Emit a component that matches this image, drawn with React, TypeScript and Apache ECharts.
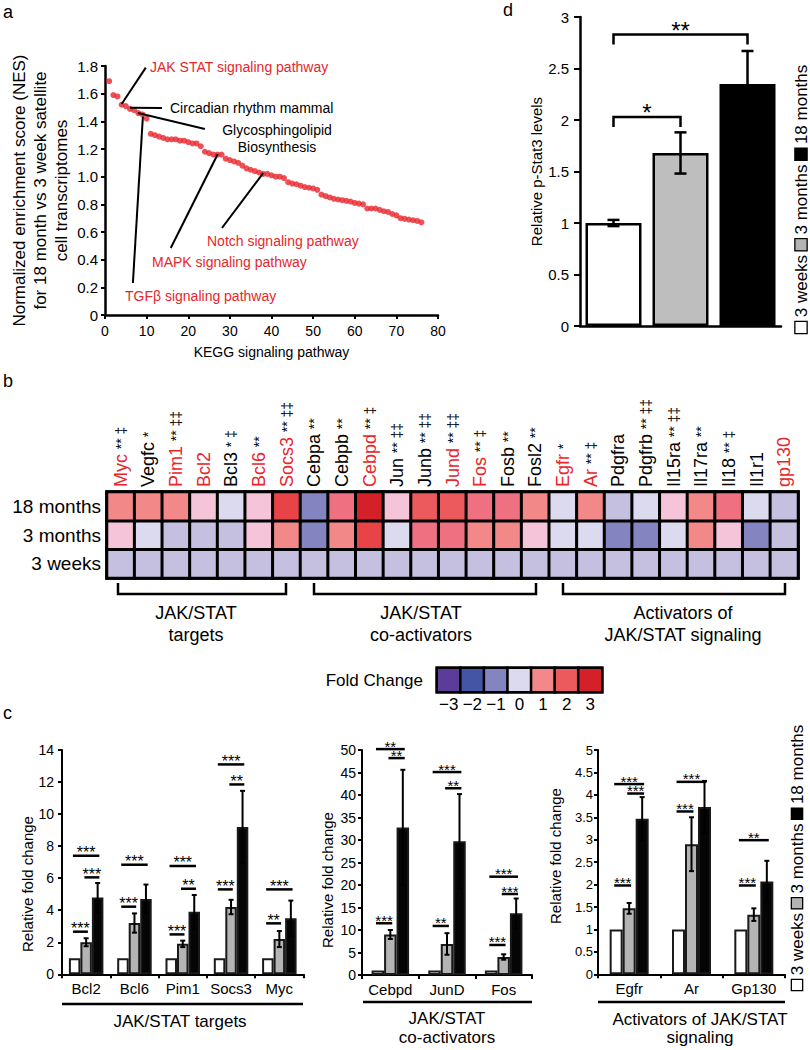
import React, { useEffect, useRef } from 'react';
import * as echarts from 'echarts';

const F = "'Liberation Sans', Arial, Helvetica, sans-serif";
const FN = "'Liberation Sans Narrow', 'Arial Narrow', 'Liberation Sans', Arial, sans-serif";
const RED = '#e8262b';

// ---------- Panel a: NES per KEGG pathway (ranked) ----------
const nesValues = [
  1.69, 1.59, 1.58, 1.52, 1.51, 1.49, 1.48, 1.46, 1.45, 1.42,
  1.31, 1.30, 1.29, 1.28, 1.27, 1.27, 1.27, 1.26, 1.26, 1.25,
  1.24, 1.24, 1.22, 1.18, 1.17, 1.16, 1.16, 1.16, 1.13, 1.12,
  1.11, 1.10, 1.08, 1.06, 1.05, 1.04, 1.03, 1.02, 1.02, 1.01,
  1.00, 1.00, 0.99, 0.96, 0.95, 0.945, 0.935, 0.925, 0.92, 0.915,
  0.905, 0.87, 0.86, 0.85, 0.84, 0.835, 0.83, 0.825, 0.82, 0.81,
  0.805, 0.80, 0.77, 0.77, 0.77, 0.76, 0.75, 0.745, 0.73, 0.72,
  0.70, 0.695, 0.69, 0.685, 0.68, 0.67,
];
const nesTicks = { min: 0, max: 1.8, interval: 0.2 };
const keggTicks = { min: 0, max: 80, interval: 10 };
// leader lines [from point, to label] in data coordinates
const leaderLines = [
  [[4.0, 1.525], [9.8, 1.788]],
  [[6.0, 1.499], [13.7, 1.497]],
  [[7.9, 1.46], [24.0, 1.345]],
  [[9.1, 1.434], [6.7, 0.231]],
  [[27.1, 1.164], [15.8, 0.484]],
  [[38.0, 1.026], [28.1, 0.629]],
];

// ---------- Panel d: p-Stat3 ----------
const ageGroups = ['3 weeks', '3 months', '18 months'];
const pStat3 = [1.0, 1.68, 2.35];
const pStat3Err = [0.03, 0.2, 0.32];
const pStatSig = [
  [0, 1, 2.03, '*'],
  [0, 2, 2.83, '**'],
];

// ---------- Panel b: heatmap ----------
const heatGenes = ['Myc', 'Vegfc', 'Pim1', 'Bcl2', 'Bcl3', 'Bcl6', 'Socs3', 'Cebpa', 'Cebpb', 'Cebpd', 'Jun', 'Junb', 'Jund', 'Fos', 'Fosb', 'Fosl2', 'Egfr', 'Ar', 'Pdgfra', 'Pdgfrb', 'Il15ra', 'Il17ra', 'Il18', 'Il1r1', 'gp130'];
const heatMarks = ['** ‡', '*', '** ‡‡', '', '* ‡', '**', '** ‡‡', '**', '**', '** ‡', '** ‡‡', '** ‡‡', '** ‡‡', '** ‡', '**', '**', '*', '** ‡', '', '** ‡‡', '** ‡‡', '**', '** ‡', '', ''];
const heatValidated = [1, 0, 1, 1, 0, 1, 1, 0, 0, 1, 0, 0, 1, 1, 0, 0, 1, 1, 0, 0, 0, 0, 0, 0, 1];
const heatRows = ['3 weeks', '3 months', '18 months'];
const fc3w = [-0.5, -0.5, -0.5, -0.5, -0.5, -0.5, -0.5, -0.5, -0.5, -0.5, -0.5, -0.5, -0.5, -0.5, -0.5, -0.5, -0.5, -0.5, -0.5, -0.5, -0.5, -0.5, -0.5, -0.5, -0.5];
const fc3m = [0.5, 0, -0.5, -0.5, -0.5, 0.5, 1, -1, 1, 2.5, 0, 1.5, 1.5, 1, 1, 0.5, 0, 0, -1, -1, 0, 1, 0.5, -1, -0.5];
const fc18m = [1, 1, 1, 0.5, 0, 0.5, 2.5, -1, 1.5, 3, 0.5, 2, 2, 1.5, 1.5, 1, 0, 1, -0.5, 0, 0.5, 1, 1.5, 0, -0.5];
const foldLevels = [-3, -2, -1, 0, 1, 2, 3];
const foldLabels = ['\u22123', '\u22122', '\u22121', '0', '1', '2', '3'];
const foldColors = ['#5b3c98', '#4f48a0', '#4455a5', '#6670b5', '#8485c0', '#c6c0e0', '#dcdaee', '#f6c4d8', '#f28888', '#ef7080', '#ec5a5e', '#e84448', '#d42028'];

// ---------- Panel c ----------
const targetGenes = ['Bcl2', 'Bcl6', 'Pim1', 'Socs3', 'Myc'];
const targets3w = [1, 1, 1, 1, 1];
const targets3m = [2.0, 3.2, 1.9, 4.2, 2.2];
const targets3mErr = [0.25, 0.6, 0.2, 0.45, 0.5];
const targets18m = [4.8, 4.7, 3.9, 9.2, 3.5];
const targets18mErr = [0.9, 0.9, 1.05, 2.25, 1.1];
const targetsSig = [
  [0, 0, 2, 7.4, '***'], [0, 1, 2, 6.05, '***'], [0, 0, 1, 2.66, '***'],
  [1, 0, 2, 6.84, '***'], [1, 0, 1, 4.22, '***'],
  [2, 0, 2, 6.76, '***'], [2, 1, 2, 5.34, '**'], [2, 0, 1, 2.49, '***'],
  [3, 0, 2, 13.1, '***'], [3, 1, 2, 11.85, '**'], [3, 0, 1, 5.3, '***'],
  [4, 0, 2, 5.3, '***'], [4, 0, 1, 3.18, '**'],
];

const coactGenes = ['Cebpd', 'JunD', 'Fos'];
const coact3w = [1, 1, 1];
const coact3m = [9.0, 6.9, 4.0];
const coact3mErr = [1.0, 2.4, 0.6];
const coact18m = [32.8, 29.7, 13.7];
const coact18mErr = [12.8, 10.5, 3.3];
const coactSig = [
  [0, 0, 2, 50.2, '**'], [0, 1, 2, 48.2, '**'], [0, 0, 1, 11.5, '***'],
  [1, 0, 2, 45.1, '***'], [1, 1, 2, 41.5, '**'], [1, 0, 1, 10.9, '**'],
  [2, 0, 2, 21.85, '***'], [2, 1, 2, 18.0, '***'], [2, 0, 1, 6.67, '***'],
];

const actGenes = ['Egfr', 'Ar', 'Gp130'];
const act3w = [1, 1, 1];
const act3m = [1.47, 2.9, 1.33];
const act3mErr = [0.12, 0.6, 0.14];
const act18m = [3.47, 3.73, 2.07];
const act18mErr = [0.48, 0.58, 0.46];
const actSig = [
  [0, 0, 2, 4.24, '***'], [0, 1, 2, 4.03, '***'], [0, 0, 1, 1.98, '***'],
  [1, 0, 2, 4.29, '***'], [1, 0, 1, 3.63, '***'],
  [2, 0, 2, 2.99, '**'], [2, 0, 1, 1.98, '***'],
];

const barFill = ['#ffffff', '#b4b4b4', '#050505'];

function errRender(barW: number, cap: number, lw: number) {
  return (params: any, api: any) => {
    const i = api.value(0), v = api.value(1), e = api.value(2), s = api.value(3);
    const t = api.coord([i, v + e]);
    const b = api.coord([i, v - e]);
    const x = t[0] + (s - 1) * barW;
    const st = { stroke: '#000', lineWidth: lw };
    return {
      type: 'group',
      children: [
        { type: 'line', shape: { x1: x, y1: t[1], x2: x, y2: b[1] }, style: st },
        { type: 'line', shape: { x1: x - cap, y1: t[1], x2: x + cap, y2: t[1] }, style: st },
        { type: 'line', shape: { x1: x - cap, y1: b[1], x2: x + cap, y2: b[1] }, style: st },
      ],
    };
  };
}

function sigRender(sig: any[], barW: number, fs: number) {
  return (params: any, api: any) => {
    const row = sig[params.dataIndex];
    const c = api.coord([row[0], row[3]]);
    const x1 = c[0] + (row[1] - 1) * barW - 0.15 * barW;
    const x2 = c[0] + (row[2] - 1) * barW + 0.15 * barW;
    return {
      type: 'group',
      children: [
        { type: 'line', shape: { x1, y1: c[1], x2, y2: c[1] }, style: { stroke: '#000', lineWidth: 2.5 } },
        {
          type: 'text', x: (x1 + x2) / 2, y: c[1] - 3,
          style: { text: row[4], fill: '#000', fontSize: fs, fontFamily: F, align: 'center', verticalAlign: 'middle', lineHeight: 8 },
        },
      ],
    };
  };
}

function makeCSeries(g: number, v3w: number[], v3m: number[], e3m: number[], v18m: number[], e18m: number[], sig: any[], barW: number, fs: number) {
  const vals = [v3w, v3m, v18m];
  const out: any[] = vals.map((vs, s) => ({
    type: 'bar', xAxisIndex: g, yAxisIndex: g, barWidth: barW, barGap: '0%',
    data: vs,
    itemStyle: { color: barFill[s], borderColor: '#1a1a1a', borderWidth: 2 },
    emphasis: { disabled: true }, silent: true,
  }));
  const errData: number[][] = [];
  v3m.forEach((v, i) => errData.push([i, v, e3m[i], 1]));
  v18m.forEach((v, i) => errData.push([i, v, e18m[i], 2]));
  out.push({
    type: 'custom', xAxisIndex: g, yAxisIndex: g, clip: false, z: 5, silent: true,
    data: errData, encode: { x: 0, y: 1 }, renderItem: errRender(barW, 2.5, 2),
  });
  out.push({
    type: 'custom', xAxisIndex: g, yAxisIndex: g, clip: false, z: 5, silent: true,
    data: sig.map((r) => [r[0], r[3]]), encode: { x: 0, y: 1 }, renderItem: sigRender(sig, barW, fs),
  });
  return out;
}

function cXAxis(g: number, data: string[]) {
  return {
    type: 'category', gridIndex: g, data,
    axisLine: { lineStyle: { color: '#000', width: 2 } },
    axisTick: { show: true, length: 4, lineStyle: { color: '#000', width: 2 } },
    axisLabel: { fontSize: 15, color: '#000', margin: 7, fontFamily: F, interval: 0 },
    splitLine: { show: false },
  };
}

function cYAxis(g: number, max: number, interval: number, fs: number, margin: number) {
  return {
    type: 'value', gridIndex: g, min: 0, max, interval,
    axisLine: { show: true, lineStyle: { color: '#000', width: 2 } },
    axisTick: { show: true, length: 4, lineStyle: { color: '#000', width: 2 } },
    axisLabel: { fontSize: fs, color: '#000', margin, fontFamily: F },
    splitLine: { show: false },
  };
}

function vText(x: number, y: number, text: string, fs: number) {
  return {
    type: 'text', x, y, rotation: Math.PI / 2,
    style: { text, fill: '#000', fontSize: fs, fontFamily: F, align: 'center', verticalAlign: 'middle' },
  };
}

function vLegend(x: number, y: number, fs: number, box: number) {
  const bs = (c: string) => ({ width: box, height: box, backgroundColor: c, borderColor: '#000', borderWidth: 1.3 });
  return {
    type: 'text', x, y, rotation: Math.PI / 2,
    style: {
      text: `{w| } ${ageGroups[0]} {g| } ${ageGroups[1]} {b| } ${ageGroups[2]}`,
      fontSize: fs, fontFamily: F, fill: '#000', align: 'left', verticalAlign: 'middle',
      rich: { w: bs('#ffffff'), g: bs('#b4b4b4'), b: bs('#000000') },
    },
  };
}

function txt(x: number, y: number, text: string, fs: number, fill = '#000', align = 'left', lh?: number) {
  return {
    type: 'text', x, y,
    style: { text, fill, fontSize: fs, fontFamily: F, align, verticalAlign: 'middle', lineHeight: lh },
  };
}

function hline(x1: number, x2: number, y: number, w = 2.5) {
  return { type: 'line', shape: { x1, y1: y, x2, y2: y }, style: { stroke: '#000', lineWidth: w } };
}

function bracketDown(x1: number, x2: number, y: number) {
  return {
    type: 'polyline',
    shape: { points: [[x1, y - 11], [x1, y], [x2, y], [x2, y - 11]] },
    style: { stroke: '#000', lineWidth: 2.5, fill: null },
  };
}

export default function App() {
  const ref = useRef<HTMLDivElement>(null);
  useEffect(() => {
    if (!ref.current) return;
    const chart = echarts.init(ref.current, null, { renderer: 'svg' });

    const heatData: number[][] = [];
    [fc3w, fc3m, fc18m].forEach((row, r) => row.forEach((v, c) => heatData.push([c, r, v])));

    const option: any = {
      animation: false,
      textStyle: { fontFamily: F, color: '#000' },
      grid: [
        { left: 105, top: 66, width: 333, height: 249 },
        { left: 580, top: 17, width: 201, height: 309 },
        { left: 107, top: 492, width: 691, height: 86 },
        { left: 437, top: 668, width: 165, height: 24 },
        { left: 62, top: 750, width: 241.5, height: 224.3 },
        { left: 362, top: 750, width: 170, height: 225 },
        { left: 598, top: 750, width: 187, height: 224.3 },
      ],
      xAxis: [
        {
          type: 'value', gridIndex: 0, ...keggTicks,
          axisLine: { lineStyle: { color: '#000', width: 2.5 } },
          axisTick: { show: true, length: 4, lineStyle: { color: '#000', width: 2 } },
          axisLabel: { fontSize: 14, color: '#000', margin: 9, fontFamily: FN },
          splitLine: { show: false },
          name: 'KEGG signaling pathway', nameLocation: 'middle', nameGap: 30,
          nameTextStyle: { fontSize: 14, color: '#000', fontFamily: FN },
        },
        {
          type: 'category', gridIndex: 1, data: ageGroups,
          axisLine: { lineStyle: { color: '#000', width: 2.5 } },
          axisTick: { show: false }, axisLabel: { show: false },
        },
        {
          type: 'category', gridIndex: 2, data: heatGenes, position: 'top',
          axisLine: { show: false }, axisTick: { show: false },
          axisLabel: {
            rotate: -90, interval: 0, margin: 5, fontSize: 17, color: '#000', fontFamily: F,
            formatter: (val: string, idx: number) =>
              `{${heatValidated[idx] ? 'r' : 'k'}|${val}}` + (heatMarks[idx] ? ` {m|${heatMarks[idx]}}` : ''),
            rich: {
              r: { color: RED, fontSize: 18, fontFamily: F },
              k: { color: '#000', fontSize: 18, fontFamily: F },
              m: { color: '#000', fontSize: 14, fontFamily: F },
            },
          },
        },
        {
          type: 'category', gridIndex: 3, data: foldLabels,
          axisLine: { show: false }, axisTick: { show: false },
          axisLabel: { fontSize: 17, color: '#000', margin: 4, fontFamily: F, interval: 0 },
        },
        cXAxis(4, targetGenes),
        cXAxis(5, coactGenes),
        cXAxis(6, actGenes),
      ],
      yAxis: [
        {
          type: 'value', gridIndex: 0, ...nesTicks,
          axisLine: { show: true, lineStyle: { color: '#000', width: 2.5 } },
          axisTick: { show: true, length: 4, lineStyle: { color: '#000', width: 2 } },
          axisLabel: {
            fontSize: 15, color: '#000', margin: 7, fontFamily: F,
            formatter: (v: number) => (v === 0 ? '0' : v.toFixed(1)),
          },
          splitLine: { show: false },
          name: 'Normalized enrichment score (NES)\nfor 18 month vs 3 week satellite\ncell transcriptomes',
          nameLocation: 'middle', nameRotate: 90, nameGap: 33,
          nameTextStyle: { fontSize: 17, color: '#000', lineHeight: 21, align: 'center', fontFamily: F },
        },
        {
          type: 'value', gridIndex: 1, min: 0, max: 3, interval: 0.5,
          axisLine: { show: true, lineStyle: { color: '#000', width: 2.5 } },
          axisTick: { show: true, length: 6, lineStyle: { color: '#000', width: 2 } },
          axisLabel: { fontSize: 15, color: '#000', margin: 11, fontFamily: F },
          splitLine: { show: false },
          name: 'Relative p-Stat3 levels', nameLocation: 'middle', nameRotate: 90, nameGap: 30,
          nameTextStyle: { fontSize: 15, color: '#000', fontFamily: F },
        },
        {
          type: 'category', gridIndex: 2, data: heatRows,
          axisLine: { show: false }, axisTick: { show: false },
          axisLabel: { fontSize: 19, color: '#000', margin: 6, fontFamily: F },
        },
        {
          type: 'category', gridIndex: 3, data: ['Fold Change'],
          axisLine: { show: false }, axisTick: { show: false },
          axisLabel: { fontSize: 17, color: '#000', margin: 14, fontFamily: F },
        },
        cYAxis(4, 14, 2, 14, 8),
        cYAxis(5, 50, 5, 14, 6),
        cYAxis(6, 5, 0.5, 13, 5),
      ],
      visualMap: {
        type: 'continuous', show: false, min: -3, max: 3, dimension: 2,
        seriesIndex: [2, 3], inRange: { color: foldColors },
      },
      series: [
        {
          type: 'scatter', xAxisIndex: 0, yAxisIndex: 0, symbolSize: 6, silent: true,
          itemStyle: { color: '#e9262b' },
          data: nesValues.map((v, i) => [i + 1, v]),
          markLine: {
            silent: true, symbol: 'none', animation: false,
            lineStyle: { color: '#000', width: 2, type: 'solid' },
            label: { show: false },
            data: leaderLines.map((l) => [{ coord: l[0] }, { coord: l[1] }]),
          },
        },
        {
          type: 'bar', xAxisIndex: 1, yAxisIndex: 1, barWidth: 56, silent: true,
          data: pStat3.map((v, i) => ({ value: v, itemStyle: { color: ['#ffffff', '#bebebe', '#000000'][i] } })),
          itemStyle: { borderColor: '#000', borderWidth: 2.5 },
        },
        {
          type: 'heatmap', xAxisIndex: 2, yAxisIndex: 2, data: heatData, silent: true,
          itemStyle: { borderColor: '#000', borderWidth: 3 },
          emphasis: { disabled: true },
        },
        {
          type: 'heatmap', xAxisIndex: 3, yAxisIndex: 3, silent: true,
          data: foldLevels.map((v, i) => [i, 0, v]),
          itemStyle: { borderColor: '#000', borderWidth: 2.5 },
          emphasis: { disabled: true },
        },
        {
          type: 'custom', xAxisIndex: 1, yAxisIndex: 1, clip: false, z: 5, silent: true,
          data: pStat3.map((v, i) => [i, v, pStat3Err[i], 1]), encode: { x: 0, y: 1 },
          renderItem: errRender(0, 6, 2.5),
        },
        {
          type: 'custom', xAxisIndex: 1, yAxisIndex: 1, clip: false, z: 5, silent: true,
          data: pStatSig.map((r) => [r[0], r[2]]), encode: { x: 0, y: 1 },
          renderItem: (params: any, api: any) => {
            const r = pStatSig[params.dataIndex];
            const a = api.coord([r[0], r[2]]);
            const b = api.coord([r[1], r[2]]);
            return {
              type: 'group',
              children: [
                { type: 'polyline', shape: { points: [[a[0], a[1] + 10], [a[0], a[1]], [b[0], b[1]], [b[0], b[1] + 10]] }, style: { stroke: '#000', lineWidth: 2.5, fill: null } },
                { type: 'text', x: (a[0] + b[0]) / 2, y: a[1] - 4, style: { text: r[3], fill: '#000', fontSize: 24, fontFamily: F, align: 'center', verticalAlign: 'middle' } },
              ],
            };
          },
        },
        ...makeCSeries(4, targets3w, targets3m, targets3mErr, targets18m, targets18mErr, targetsSig, 11.5, 16),
        ...makeCSeries(5, coact3w, coact3m, coact3mErr, coact18m, coact18mErr, coactSig, 12.5, 15),
        ...makeCSeries(6, act3w, act3m, act3mErr, act18m, act18mErr, actSig, 13, 15),
      ],
      graphic: [
        txt(3, 12, 'a', 18), txt(503, 10, 'd', 18), txt(3, 381, 'b', 18), txt(3, 713, 'c', 18),
        txt(150, 67, 'JAK STAT signaling pathway', 14, RED),
        txt(170, 108, 'Circadian rhythm mammal', 14),
        txt(277, 138.5, 'Glycosphingolipid\nBiosynthesis', 14, '#000', 'center', 17),
        txt(125, 296, 'TGF\u03b2 signaling pathway', 14, RED),
        txt(152, 262, 'MAPK signaling pathway', 14, RED),
        txt(207, 241, 'Notch signaling pathway', 14, RED),
        vLegend(801, 333, 17, 11),
        { type: 'rect', shape: { x: 107, y: 492, width: 691, height: 86 }, style: { stroke: '#000', lineWidth: 3.5, fill: null } },
        bracketDown(118, 286, 594), bracketDown(314, 536, 594), bracketDown(563, 785, 594),
        txt(196, 624, 'JAK/STAT\ntargets', 18, '#000', 'center', 22),
        txt(421, 624, 'JAK/STAT\nco-activators', 18, '#000', 'center', 22),
        txt(683, 624, 'Activators of\nJAK/STAT signaling', 18, '#000', 'center', 22),
        { type: 'rect', shape: { x: 437, y: 668, width: 165, height: 24 }, style: { stroke: '#000', lineWidth: 3, fill: null } },
        vText(27, 884, 'Relative fold change', 15),
        vText(327, 880, 'Relative fold change', 15),
        vText(555, 856, 'Relative fold change', 15),
        hline(62, 303, 1004), hline(363, 532, 1002), hline(598, 785, 1002),
        txt(180, 1021, 'JAK/STAT targets', 17, '#000', 'center'),
        txt(447, 1028, 'JAK/STAT\nco-activators', 17, '#000', 'center', 19),
        txt(700, 1028, 'Activators of JAK/STAT\nsignaling', 17, '#000', 'center', 18),
        vLegend(797, 990, 17, 10),
      ],
    };
    chart.setOption(option);
    return () => chart.dispose();
  }, []);
  return <div ref={ref} style={{ position: 'absolute', left: 0, top: 0, width: 810, height: 1050, background: '#fff' }} />;
}
